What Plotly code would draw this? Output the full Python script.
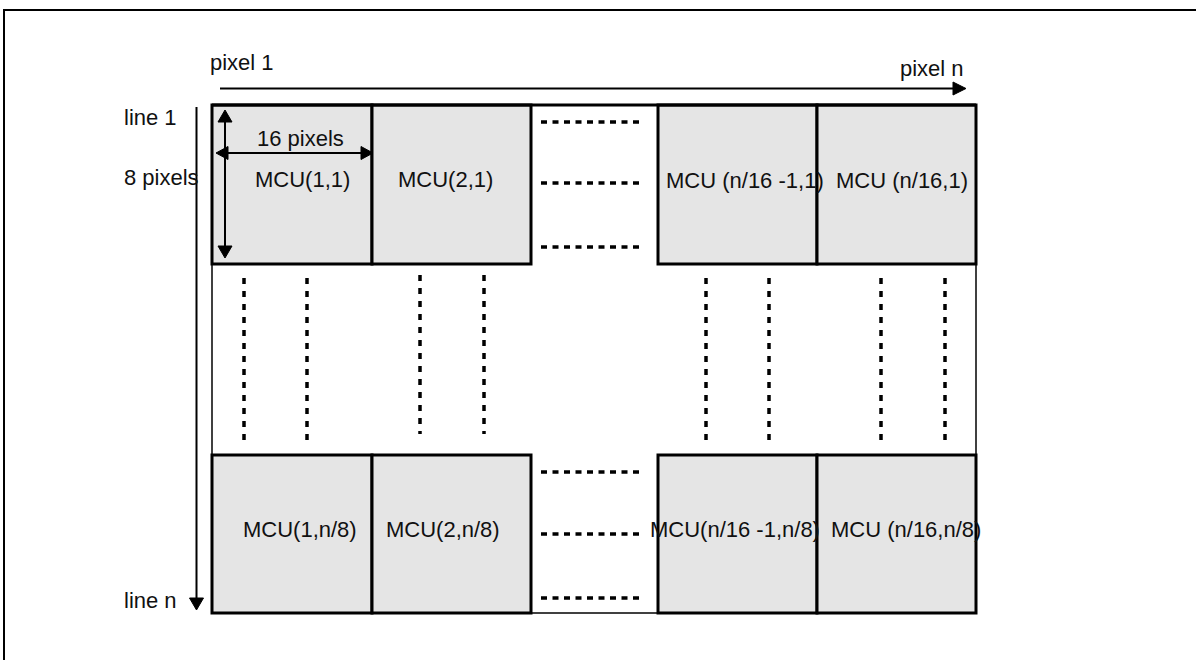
import plotly.graph_objects as go

# ---- content ----
top_labels = ["MCU(1,1)", "MCU(2,1)", "MCU (n/16 -1,1)", "MCU (n/16,1)"]
bottom_labels = ["MCU(1,n/8)", "MCU(2,n/8)", "MCU(n/16 -1,n/8)", "MCU (n/16,n/8)"]
axis_texts = ["pixel 1", "pixel n", "line 1", "line n", "8 pixels", "16 pixels"]

# ---- geometry (pixel space of the page) ----
W, H = 1196, 660
col_edges = [(212, 372), (372, 531), (658, 817), (817, 976)]
row_edges = [(105, 264), (455, 613)]
top_text_pos = [(302, 179), (445, 179), (745, 180), (902, 180)]
bot_text_pos = [(300, 529), (443, 529), (735, 529), (906, 529)]
hdots_x = (541, 640)
hdots_y = [122, 183, 247, 472, 534, 598]
vdots = [(244, 278, 440), (307, 278, 440), (420, 275, 434), (484, 275, 434),
         (706, 278, 440), (769, 278, 440), (881, 278, 440), (945, 278, 440)]

BOX_FILL = "#e5e5e5"
INK = "#000000"
TEXT = "#111111"
FONT = "Liberation Sans, Arial, sans-serif"
FS = 22

fig = go.Figure()
shapes = []
annotations = []

# outer frame (extends off the page)
shapes.append(dict(type="rect", x0=4, y0=10, x1=W + 40, y1=H + 40,
                   line=dict(color=INK, width=2), fillcolor="rgba(0,0,0,0)"))

# grid outline (thin)
gx0, gx1 = col_edges[0][0], col_edges[-1][1]
gy0, gy1 = row_edges[0][0], row_edges[-1][1]
shapes.append(dict(type="line", x0=gx0, y0=gy0, x1=gx0, y1=gy1, line=dict(color=INK, width=1.5)))
shapes.append(dict(type="line", x0=gx1, y0=gy0, x1=gx1, y1=gy1, line=dict(color=INK, width=1.5)))
shapes.append(dict(type="line", x0=gx0, y0=gy1, x1=gx1, y1=gy1, line=dict(color=INK, width=1.5)))
shapes.append(dict(type="line", x0=gx0, y0=gy0, x1=gx1, y1=gy0, line=dict(color=INK, width=3)))

# MCU boxes
for r, (y0, y1) in enumerate(row_edges):
    labels = top_labels if r == 0 else bottom_labels
    pos = top_text_pos if r == 0 else bot_text_pos
    for c, (x0, x1) in enumerate(col_edges):
        shapes.append(dict(type="rect", x0=x0, y0=y0, x1=x1, y1=y1,
                           line=dict(color=INK, width=3), fillcolor=BOX_FILL, layer="below"))
        annotations.append(dict(x=pos[c][0], y=pos[c][1], text=labels[c], showarrow=False,
                                xanchor="center", yanchor="middle",
                                font=dict(family=FONT, size=FS, color=TEXT)))

# dotted horizontal leaders
for y in hdots_y:
    fig.add_trace(go.Scatter(x=list(hdots_x), y=[y, y], mode="lines",
                             line=dict(color=INK, width=3.5, dash="6px,5.5px"),
                             hoverinfo="skip"))
# dotted vertical leaders
for x, ya, yb in vdots:
    fig.add_trace(go.Scatter(x=[x, x], y=[ya, yb], mode="lines",
                             line=dict(color=INK, width=3.5, dash="6px,7px"),
                             hoverinfo="skip"))


def arrow_head(tx, ty, direction, length=12, half=7):
    if direction == "right":
        p = [(tx, ty), (tx - length, ty - half), (tx - length, ty + half)]
    elif direction == "left":
        p = [(tx, ty), (tx + length, ty - half), (tx + length, ty + half)]
    elif direction == "down":
        p = [(tx, ty), (tx - half, ty - length), (tx + half, ty - length)]
    else:
        p = [(tx, ty), (tx - half, ty + length), (tx + half, ty + length)]
    path = "M {} {} L {} {} L {} {} Z".format(p[0][0], p[0][1], p[1][0], p[1][1], p[2][0], p[2][1])
    return dict(type="path", path=path, fillcolor=INK, line=dict(color=INK, width=1))


# pixel axis arrow
shapes.append(dict(type="line", x0=220, y0=88.5, x1=956, y1=88.5, line=dict(color=INK, width=2)))
shapes.append(arrow_head(966, 88.5, "right", 13, 6.5))
# line axis arrow
shapes.append(dict(type="line", x0=196.5, y0=107, x1=196.5, y1=600, line=dict(color=INK, width=2)))
shapes.append(arrow_head(196.5, 610, "down", 12, 7))
# 8 pixels double arrow
shapes.append(dict(type="line", x0=225, y0=118, x1=225, y1=250, line=dict(color=INK, width=2)))
shapes.append(arrow_head(225, 110, "up", 12, 7))
shapes.append(arrow_head(225, 258, "down", 12, 7))
# 16 pixels double arrow
shapes.append(dict(type="line", x0=224, y0=153, x1=365, y1=153, line=dict(color=INK, width=2)))
shapes.append(arrow_head(216, 153, "left", 12, 6.5))
shapes.append(arrow_head(373, 153, "right", 12, 6.5))

# axis texts
txt_pos = {
    "pixel 1": (208, 62, "left"),
    "pixel n": (966, 68, "right"),
    "line 1": (122, 117, "left"),
    "line n": (122, 600, "left"),
    "8 pixels": (122, 177, "left"),
    "16 pixels": (300, 138, "center"),
}
for t in axis_texts:
    x, y, anc = txt_pos[t]
    annotations.append(dict(x=x, y=y, text=t, showarrow=False, xanchor=anc, yanchor="middle",
                            font=dict(family=FONT, size=FS, color=TEXT)))

fig.update_layout(
    width=W, height=H,
    margin=dict(l=0, r=0, t=0, b=0),
    paper_bgcolor="white", plot_bgcolor="white",
    showlegend=False,
    hovermode=False,
    xaxis=dict(range=[0, W], visible=False, fixedrange=True),
    yaxis=dict(range=[H, 0], visible=False, fixedrange=True),
    shapes=shapes, annotations=annotations,
)
fig.write_html("out.html",
               config={"displayModeBar": False, "staticPlot": True},
               post_script="document.body.style.margin='0px';document.body.style.overflow='hidden';")
